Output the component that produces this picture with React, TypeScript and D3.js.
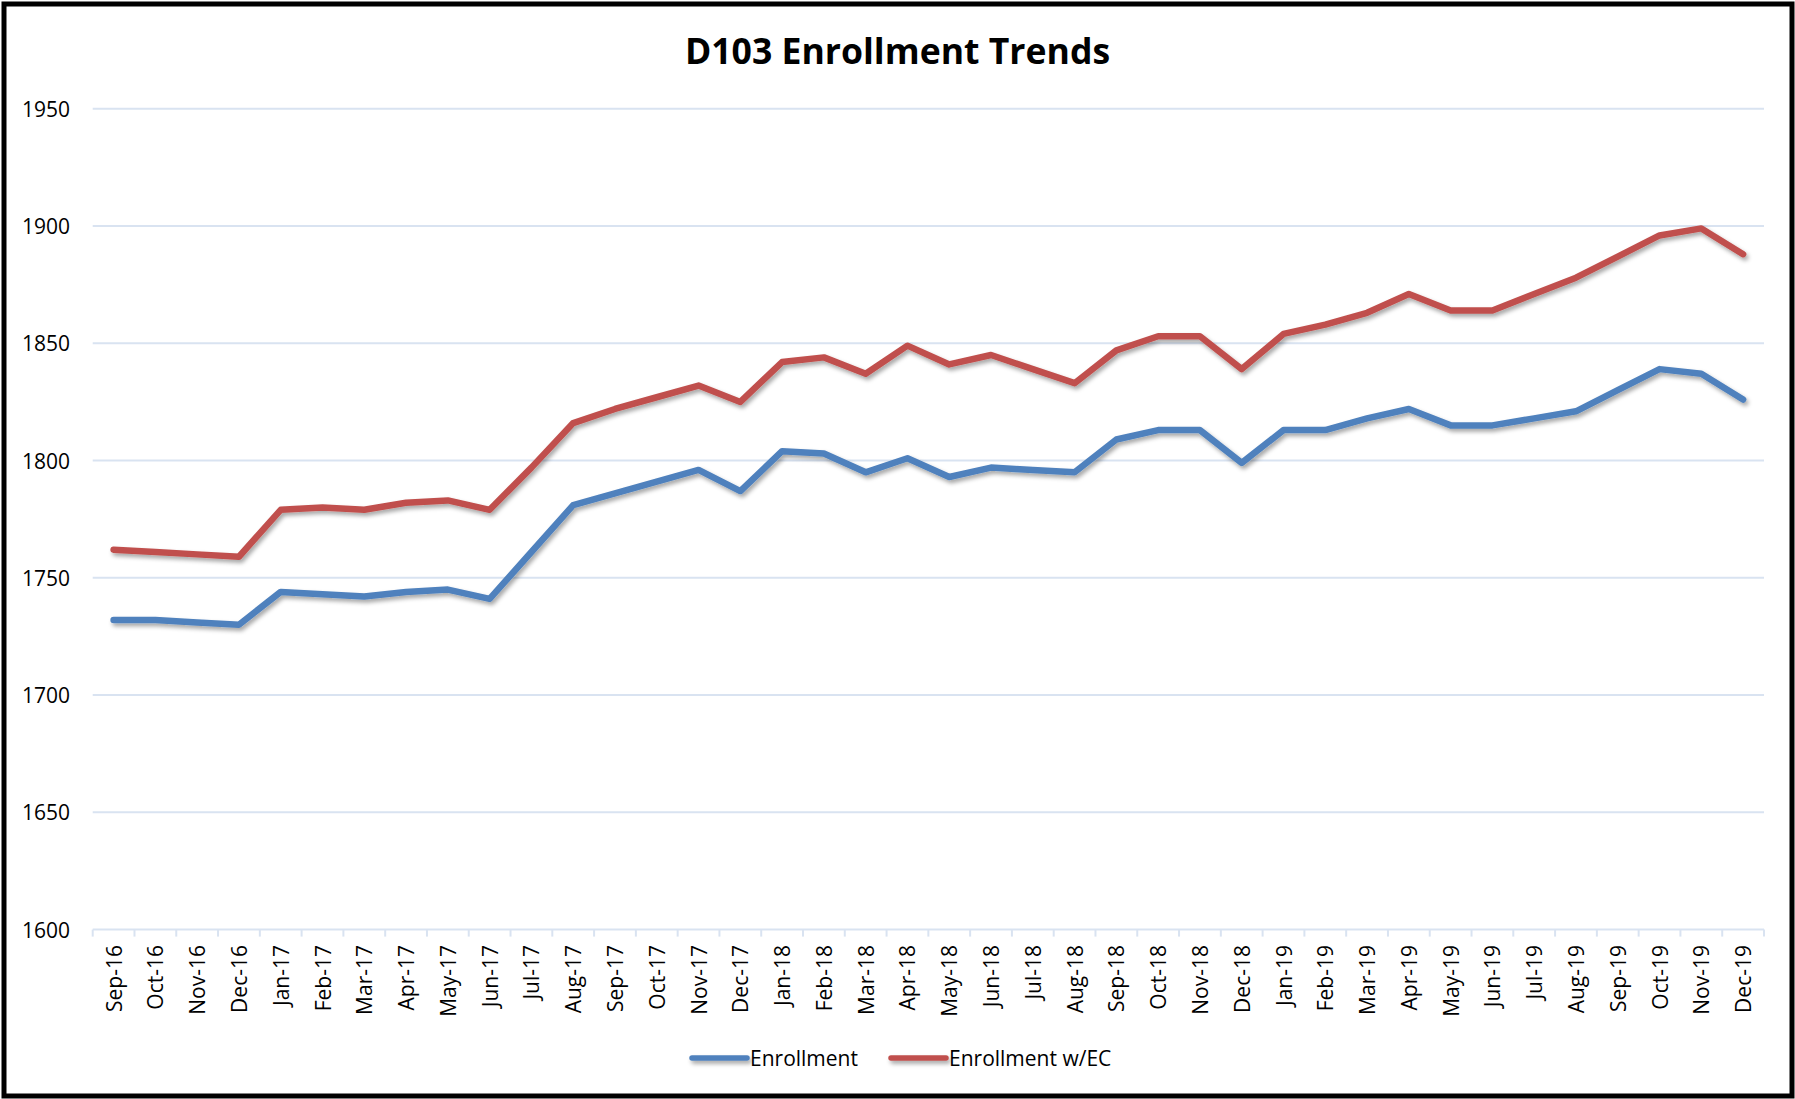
import * as d3 from 'd3';
import React from 'react';

// categories (x axis)
const months = [
  'Sep-16', 'Oct-16', 'Nov-16', 'Dec-16',
  'Jan-17', 'Feb-17', 'Mar-17', 'Apr-17', 'May-17', 'Jun-17',
  'Jul-17', 'Aug-17', 'Sep-17', 'Oct-17', 'Nov-17', 'Dec-17',
  'Jan-18', 'Feb-18', 'Mar-18', 'Apr-18', 'May-18', 'Jun-18',
  'Jul-18', 'Aug-18', 'Sep-18', 'Oct-18', 'Nov-18', 'Dec-18',
  'Jan-19', 'Feb-19', 'Mar-19', 'Apr-19', 'May-19', 'Jun-19',
  'Jul-19', 'Aug-19', 'Sep-19', 'Oct-19', 'Nov-19', 'Dec-19',
];

// series values
const enrollment = [
  1732, 1732, 1731, 1730,
  1744, 1743, 1742, 1744, 1745, 1741,
  1761, 1781, 1786, 1791, 1796, 1787,
  1804, 1803, 1795, 1801, 1793, 1797,
  1796, 1795, 1809, 1813, 1813, 1799,
  1813, 1813, 1818, 1822, 1815, 1815,
  1818, 1821, 1830, 1839, 1837, 1826,
];

const enrollmentEC = [
  1762, 1761, 1760, 1759,
  1779, 1780, 1779, 1782, 1783, 1779,
  1797, 1816, 1822, 1827, 1832, 1825,
  1842, 1844, 1837, 1849, 1841, 1845,
  1839, 1833, 1847, 1853, 1853, 1839,
  1854, 1858, 1863, 1871, 1864, 1864,
  1871, 1878, 1887, 1896, 1899, 1888,
];

const yTicks = [1600, 1650, 1700, 1750, 1800, 1850, 1900, 1950];

const seriesNames = ['Enrollment', 'Enrollment w/EC'];
const seriesColors = ['#4F81BD', '#C0504D'];

const App = () => {
  // set the dimensions of the graph
  const width = 1795;
  const height = 1099;
  const plot = { left: 92.7, right: 1764, top: 108.8, bottom: 929.6 };
  const font = '"Open Sans", "DejaVu Sans", sans-serif';
  const gridColor = '#D9E3F1';

  // set the ranges
  const x = d3.scaleBand().domain(months).range([plot.left, plot.right]);
  const cx = (m: string) => (x(m) as number) + x.bandwidth() / 2;
  const y = d3.scaleLinear().domain([1600, 1950]).range([plot.bottom, plot.top]);

  // define the line
  const valueline = d3
    .line<number>()
    .x((d, i) => cx(months[i]))
    .y(d => y(d));

  const series = [enrollment, enrollmentEC];

  // tick marks sit on the band boundaries
  const boundaries = months.map(m => x(m) as number).concat([plot.right]);

  // legend layout
  const legendY = 1058;
  const legend = [
    { x1: 692, x2: 747, tx: 750 },
    { x1: 891, x2: 946, tx: 949 },
  ];

  return (
    <div style={{ position: 'absolute', left: 0, top: 0 }}>
      <svg width={width} height={height} style={{ display: 'block' }}>
        <defs>
          {/* user space region so flat legend lines keep their shadow */}
          <filter id="shadow" filterUnits="userSpaceOnUse" x={0} y={0} width={width} height={height}>
            <feDropShadow dx="2" dy="3" stdDeviation="2" floodColor="#000" floodOpacity="0.35" />
          </filter>
        </defs>

        <rect x={0} y={0} width={width} height={height} fill="#fff" />

        {/* title */}
        <text
          x={width / 2}
          y={64}
          textAnchor="middle"
          fontFamily={font}
          fontWeight="bold"
          fontSize={35.6}
          fill="#000"
        >
          D103 Enrollment Trends
        </text>

        {/* gridlines and y labels */}
        {yTicks.map(t => (
          <g key={t}>
            <line
              x1={plot.left}
              x2={plot.right}
              y1={y(t)}
              y2={y(t)}
              stroke={gridColor}
              strokeWidth={2}
            />
            <text
              x={70}
              y={y(t)}
              textAnchor="end"
              dominantBaseline="central"
              fontFamily={font}
              fontSize={21}
              fill="#000"
            >
              {t}
            </text>
          </g>
        ))}

        {/* x axis tick marks */}
        {boundaries.map((b, i) => (
          <line
            key={i}
            x1={b}
            x2={b}
            y1={plot.bottom}
            y2={plot.bottom + 7}
            stroke={gridColor}
            strokeWidth={2}
          />
        ))}

        {/* x labels, rotated */}
        {months.map(m => (
          <text
            key={m}
            transform={`translate(${cx(m)},${945}) rotate(-90)`}
            textAnchor="end"
            dominantBaseline="central"
            fontFamily={font}
            fontSize={21}
            fill="#000"
          >
            {m}
          </text>
        ))}

        {/* the lines */}
        {series.map((s, i) => (
          <path
            key={seriesNames[i]}
            d={valueline(s) as string}
            fill="none"
            stroke={seriesColors[i]}
            strokeWidth={6.5}
            strokeLinecap="round"
            strokeLinejoin="round"
            filter="url(#shadow)"
          />
        ))}

        {/* legend */}
        {legend.map((l, i) => (
          <g key={seriesNames[i]}>
            <line
              x1={l.x1}
              x2={l.x2}
              y1={legendY}
              y2={legendY}
              stroke={seriesColors[i]}
              strokeWidth={5.5}
              strokeLinecap="round"
              filter="url(#shadow)"
            />
            <text
              x={l.tx}
              y={legendY}
              dominantBaseline="central"
              fontFamily={font}
              fontSize={21}
              fill="#000"
            >
              {seriesNames[i]}
            </text>
          </g>
        ))}

        {/* outer border */}
        <rect x={4} y={4} width={1788} height={1092} fill="none" stroke="#000" strokeWidth={5} />
      </svg>
    </div>
  );
};

export default App;
